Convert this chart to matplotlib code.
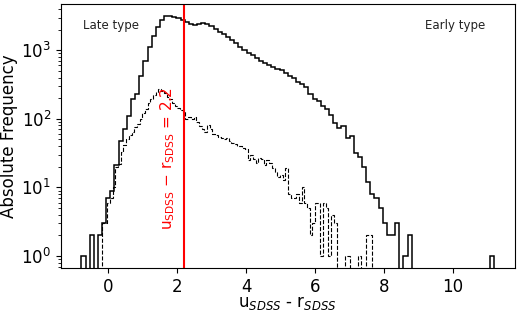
import numpy as np
import matplotlib
matplotlib.use("Agg")
import matplotlib.pyplot as plt

# Bin ranges (data units) for the two histograms (100 bins each)
all_range = (-0.77, 11.19)
sub_range = (-0.18, 7.64)
n_bins = 100

# Counts: all galaxies (solid)
all_counts = [
    1, 0, 2, 0, 2, 3, 7, 9, 21, 47,
    70, 109, 192, 228, 420, 700, 1100, 1600, 2200, 2800,
    3150, 3150, 3100, 2950, 2750, 2600, 2450, 2300, 2400, 2500,
    2450, 2250, 2050, 1850, 1700, 1550, 1400, 1290, 1100, 1000,
    900, 850, 780, 700, 650, 610, 570, 540, 510, 460,
    420, 390, 350, 320, 290, 230, 195, 180, 155, 140,
    115, 88, 73, 78, 53, 56, 32, 28, 20, 12,
    8, 7, 5, 3, 2, 2, 3, 0, 1, 2,
    0, 0, 0, 0, 0, 0, 0, 0, 0, 0,
    0, 0, 0, 0, 0, 0, 0, 0, 0, 1,
]

# Counts: subsample (dashed)
sub_counts = [
    3, 3, 6, 7, 10, 20, 22, 33, 42, 50,
    58, 65, 75, 85, 100, 120, 140, 170, 195, 220,
    245, 270, 255, 235, 210, 195, 170, 155, 145, 135,
    125, 100, 105, 98, 105, 90, 78, 70, 65, 80,
    70, 60, 58, 54, 52, 50, 52, 48, 45, 43,
    40, 40, 37, 36, 25, 30, 26, 23, 27, 26,
    21, 25, 23, 19, 17, 14, 15, 13, 19, 8,
    7, 7, 8, 6, 10, 6, 5, 2, 3, 6,
    6, 1, 6, 5, 1, 4, 3, 0, 0, 0,
    1, 1, 0, 0, 0, 1, 0, 0, 2, 2,
]

cut_value = 2.2
x_ticks = [0, 2, 4, 6, 8, 10]

all_edges = np.linspace(all_range[0], all_range[1], n_bins + 1)
sub_edges = np.linspace(sub_range[0], sub_range[1], n_bins + 1)

fig = plt.figure(figsize=(5.2, 3.12), dpi=100)
ax = fig.add_axes([0.117, 0.141, 0.873, 0.846])

ax.hist(all_edges[:-1], bins=all_edges, weights=all_counts, histtype='step',
        log=True, color='black', lw=1.1)
ax.hist(sub_edges[:-1], bins=sub_edges, weights=sub_counts, histtype='step',
        log=True, color='black', lw=0.8, linestyle='--')

ax.axvline(cut_value, color='red', lw=1.5)
ax.text(1.74, 2.4, r'u$_{\mathrm{SDSS}}$ $-$ r$_{\mathrm{SDSS}}$ = 2.2',
        rotation=90, color='red', fontsize=11, ha='center', va='bottom')

ax.text(0.048, 0.917, 'Late type', transform=ax.transAxes, fontsize=8.5,
        ha='left', va='center', color='#222222')
ax.text(0.935, 0.917, 'Early type', transform=ax.transAxes, fontsize=8.5,
        ha='right', va='center', color='#222222')

ax.set_xticks(x_ticks)
ax.tick_params(labelsize=12)
ax.set_xlabel(r'u$_{SDSS}$ - r$_{SDSS}$', fontsize=12)
ax.set_ylabel('Absolute Frequency', fontsize=12)
ax.xaxis.set_label_coords(0.5, -0.1)
ax.yaxis.set_label_coords(-0.095, 0.5)

fig.savefig('out.png', dpi=100)
